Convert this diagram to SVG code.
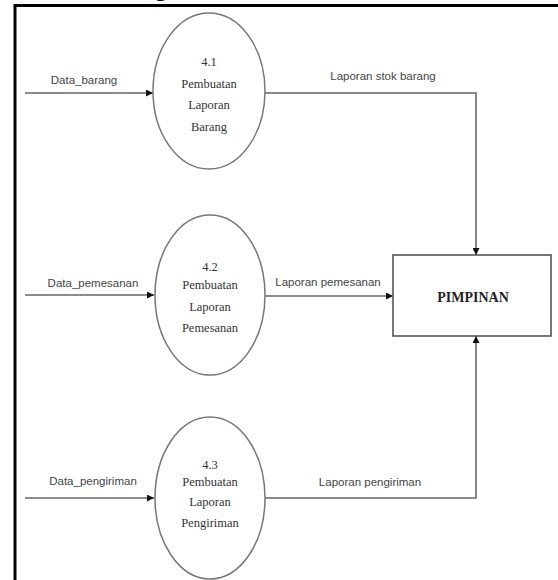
<svg xmlns="http://www.w3.org/2000/svg" width="558" height="580" viewBox="0 0 558 580">
<style>
.frame{stroke:#000;stroke-width:3;fill:none}
.proc{fill:#fff;stroke:#777;stroke-width:1.5}
.ptxt{font-family:"Liberation Serif",serif;font-size:12.5px;fill:#333;text-anchor:middle}
.flow{fill:none;stroke:#666;stroke-width:1.6}
.lbl{font-family:"Liberation Sans",Arial,sans-serif;font-size:11.5px;fill:#444;text-anchor:middle}
.ent{fill:#fff;stroke:#555;stroke-width:1.6}
.etxt{font-family:"Liberation Serif",serif;font-size:14px;font-weight:bold;fill:#222;text-anchor:middle}
</style>
<defs>
<marker id="arr" viewBox="0 0 10 10" refX="10" refY="5" markerWidth="7" markerHeight="7" markerUnits="userSpaceOnUse" orient="auto">
<path d="M0,0 L10,5 L0,10 z" fill="#111"/>
</marker>
</defs>
<rect width="558" height="580" fill="#fff"/>
<text x="161" y="-4" font-family="Liberation Serif,serif" font-size="22" font-weight="bold" text-anchor="middle" fill="#000">g</text>
<path class="frame" d="M15,580 L15,5.5 L558,5.5"/>

<g id="connectors">
<path class="flow" d="M25,93 L153,93" marker-end="url(#arr)"/>
<path class="flow" d="M25,295 L154,295" marker-end="url(#arr)"/>
<path class="flow" d="M25,498 L154,498" marker-end="url(#arr)"/>
<path class="flow" d="M265,93 L476,93 L476,255" marker-end="url(#arr)"/>
<path class="flow" d="M265,296 L393,296" marker-end="url(#arr)"/>
<path class="flow" d="M265,498 L476,498 L476,336" marker-end="url(#arr)"/>
<text class="lbl" x="84" y="84">Data_barang</text>
<text class="lbl" x="93" y="287">Data_pemesanan</text>
<text class="lbl" x="93" y="485">Data_pengiriman</text>
<text class="lbl" x="383" y="80">Laporan stok barang</text>
<text class="lbl" x="328" y="286">Laporan pemesanan</text>
<text class="lbl" x="370" y="486">Laporan pengiriman</text>
</g>

<g id="p41">
<ellipse class="proc" cx="209" cy="91" rx="56" ry="78"/>
<text class="ptxt" x="209" y="66">4.1</text>
<text class="ptxt" x="209" y="88">Pembuatan</text>
<text class="ptxt" x="209" y="109">Laporan</text>
<text class="ptxt" x="209" y="131">Barang</text>
</g>

<g id="p42">
<ellipse class="proc" cx="210" cy="295" rx="55" ry="80"/>
<text class="ptxt" x="210" y="271">4.2</text>
<text class="ptxt" x="210" y="289">Pembuatan</text>
<text class="ptxt" x="210" y="311">Laporan</text>
<text class="ptxt" x="210" y="332">Pemesanan</text>
</g>

<g id="p43">
<ellipse class="proc" cx="210" cy="498" rx="55" ry="81"/>
<text class="ptxt" x="210" y="469">4.3</text>
<text class="ptxt" x="210" y="486">Pembuatan</text>
<text class="ptxt" x="210" y="506">Laporan</text>
<text class="ptxt" x="210" y="527">Pengiriman</text>
</g>

<g id="pimpinan">
<rect class="ent" x="393" y="255" width="158" height="81"/>
<text class="etxt" x="473" y="302">PIMPINAN</text>
</g>
</svg>
